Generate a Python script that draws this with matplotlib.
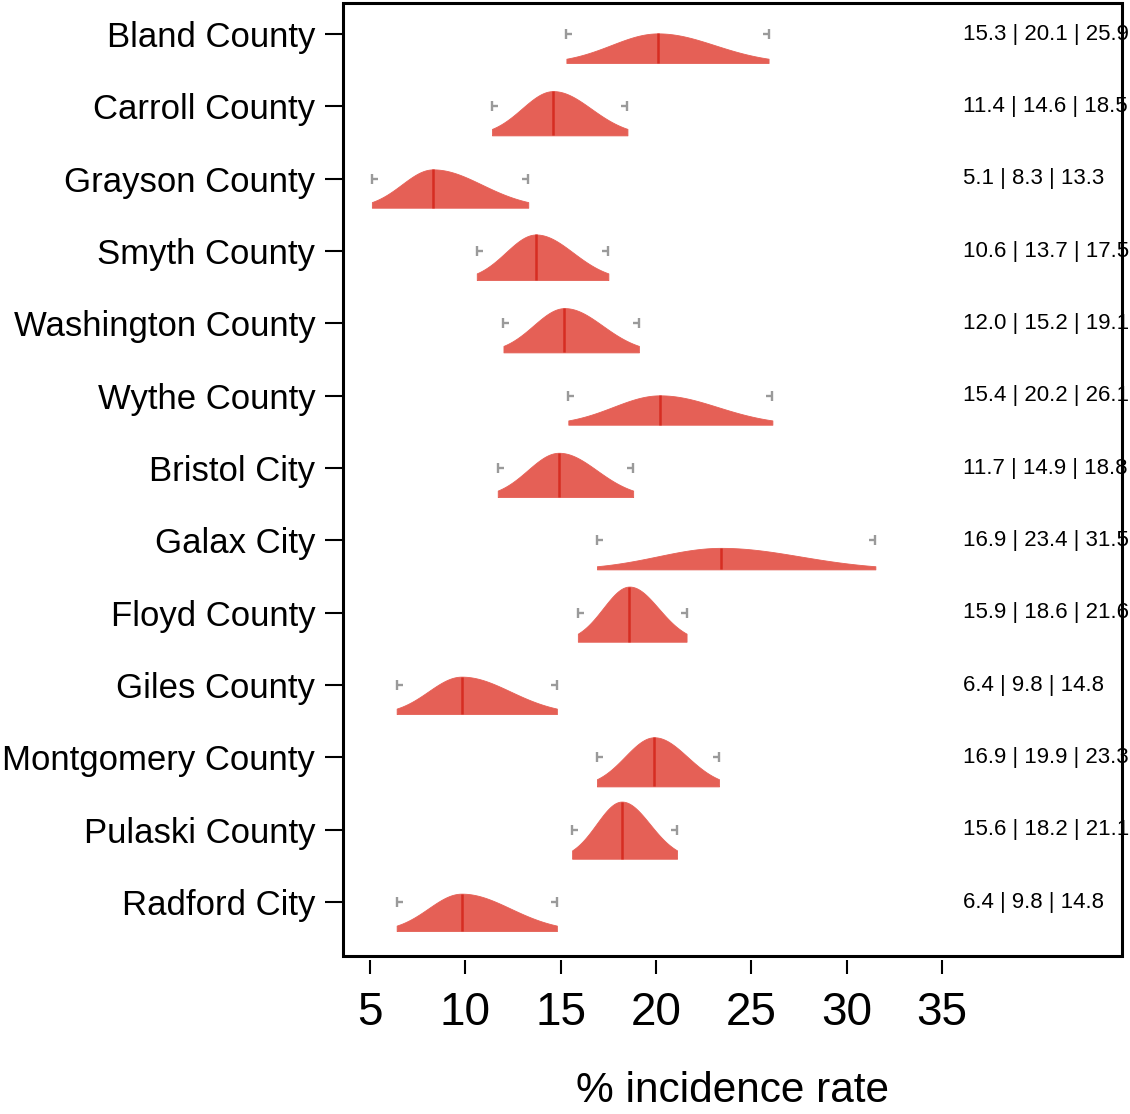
import matplotlib

matplotlib.use("Agg")
import matplotlib.pyplot as plt
import numpy as np
from matplotlib.lines import TICKLEFT, TICKRIGHT
from matplotlib.patches import Rectangle

plt.rcParams["font.family"] = ["Liberation Sans", "DejaVu Sans"]

# rows top to bottom: lower bound | median | upper bound of % incidence rate
regions = [
    "Bland County", "Carroll County", "Grayson County", "Smyth County",
    "Washington County", "Wythe County", "Bristol City", "Galax City",
    "Floyd County", "Giles County", "Montgomery County", "Pulaski County",
    "Radford City",
]
lower = [15.3, 11.4, 5.1, 10.6, 12.0, 15.4, 11.7, 16.9, 15.9, 6.4, 16.9, 15.6, 6.4]
median = [20.1, 14.6, 8.3, 13.7, 15.2, 20.2, 14.9, 23.4, 18.6, 9.8, 19.9, 18.2, 9.8]
upper = [25.9, 18.5, 13.3, 17.5, 19.1, 26.1, 18.8, 31.5, 21.6, 14.8, 23.3, 21.1, 14.8]
x_ticks = [5, 10, 15, 20, 25, 30, 35]

FILL = "#e56056"
MEDIAN = "#d62d22"
WHISKER = "#9a9a9a"
BASE_OFFSET = 0.40   # baseline of each density sits this far below its row
HEIGHT_SCALE = 2.78  # density units -> row units


def split_normal(x, lo, med, hi):
    # two-piece normal whose 95% bounds hit lo / hi
    sl, sr = (med - lo) / 1.96, (hi - med) / 1.96
    s = np.where(x < med, sl, sr)
    return 2.0 / (np.sqrt(2 * np.pi) * (sl + sr)) * np.exp(-((x - med) ** 2) / (2 * s ** 2))


def draw_row(ax, row, lo, med, hi):
    xs = np.linspace(lo, hi, 300)
    h = HEIGHT_SCALE * split_normal(xs, lo, med, hi)
    base = row + BASE_OFFSET
    ax.fill_between(xs, base, base - h, color=FILL, lw=0.6, edgecolor=FILL, zorder=2)
    peak = HEIGHT_SCALE * split_normal(np.array([med]), lo, med, hi)[0]
    ax.vlines(med, base, base - peak, color=MEDIAN, lw=1.8, zorder=3)

    # small |- and -| caps at the interval ends
    for x, stub in ((lo, TICKRIGHT), (hi, TICKLEFT)):
        ax.plot([x], [row], marker="|", ms=7.5, mew=1.7, color=WHISKER, zorder=3)
        ax.plot([x], [row], marker=stub, ms=4.5, mew=1.7, color=WHISKER, zorder=3)

    ax.text(36.1, row, f"{lo:.1f} | {med:.1f} | {hi:.1f}", fontsize=16,
            ha="left", va="center", clip_on=False, zorder=3)


def main() -> None:
    fig = plt.figure(figsize=(11.3, 11.14), dpi=100)
    ax = fig.add_axes([0.3035, 0.1418, 0.6894, 0.8555])

    n = len(regions)
    for row in range(n):
        draw_row(ax, row, lower[row], median[row], upper[row])

    ax.set_xlim(3.584, 44.43)
    ax.set_ylim(n - 1 + 0.745, -0.43)

    ax.set_yticks(range(n))
    ax.set_yticklabels(regions)
    ax.set_xticks(x_ticks)
    ax.set_xticklabels([str(t) for t in x_ticks])
    ax.tick_params(axis="y", length=13, width=1.5, pad=7, labelsize=25)
    ax.tick_params(axis="x", length=10, width=1.5, pad=12, labelsize=33)
    ax.set_xlabel("% incidence rate", fontsize=30.5, labelpad=26)

    # R-style frame: box drawn separately, x ticks start just below it
    for side in ("left", "right", "top", "bottom"):
        ax.spines[side].set_visible(False)
    ax.spines["bottom"].set_position(("outward", 3))
    ax.add_patch(Rectangle((0, 0), 1, 1, transform=ax.transAxes, fill=False,
                           lw=2.2, edgecolor="black", clip_on=False, zorder=5))

    fig.savefig("out.png", dpi=100)
    plt.close(fig)


if __name__ == "__main__":
    main()
